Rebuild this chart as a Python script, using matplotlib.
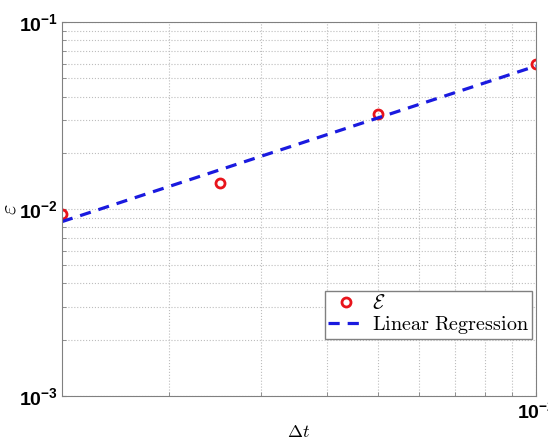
import numpy as np
import matplotlib.pyplot as plt
from matplotlib.ticker import NullFormatter

plt.rcParams['mathtext.fontset'] = 'cm'
plt.rcParams['font.family'] = ['Liberation Sans', 'DejaVu Sans']
plt.rcParams['font.weight'] = 'bold'

# time steps and errors
dt = [1.25e-3, 2.5e-3, 5e-3, 1e-2]
err = [0.0094, 0.0138, 0.0322, 0.0596]

# least squares fit in log-log space
p = np.polyfit(np.log10(dt), np.log10(err), 1)
fit = 10 ** np.polyval(p, np.log10(dt))

fig = plt.figure(figsize=(5.48, 4.43), dpi=100)
ax = fig.add_axes([0.113, 0.106, 0.865, 0.844])

ax.loglog(dt, err, 'o', mfc='none', mec='#e8141b', mew=2, ms=6.5,
          label=r'$\mathcal{E}$')
ax.loglog(dt, fit, '--', color='#1a1adf', lw=2.3, dashes=(3.5, 2.5),
          label=r'$\mathrm{Linear\ Regression}$')

ax.set_xlim(1.25e-3, 1e-2)
ax.set_ylim(1e-3, 1e-1)
ax.xaxis.set_minor_formatter(NullFormatter())
ax.yaxis.set_minor_formatter(NullFormatter())
ax.grid(True, which='both', ls=':', color='#bdbdbd', lw=0.8)
ax.tick_params(which='both', direction='in', length=3, color='#808080')
ax.tick_params(which='major', labelsize=14, pad=3)
for s in ax.spines.values():
    s.set_color('#808080')

ax.set_xlabel(r'$\Delta t$', fontsize=13)
ax.xaxis.set_label_coords(0.5, -0.075)
ax.set_ylabel(r'$\varepsilon$', fontsize=16)
ax.yaxis.set_label_coords(-0.088, 0.5)

leg = ax.legend(loc='lower right', bbox_to_anchor=(0.992, 0.152), fontsize=14.5,
                fancybox=False, edgecolor='#808080', framealpha=1,
                handlelength=1.8, borderpad=0.15, labelspacing=0.05,
                handletextpad=0.4, borderaxespad=0)
leg.get_frame().set_linewidth(1.0)

fig.savefig('out.png', dpi=100)
